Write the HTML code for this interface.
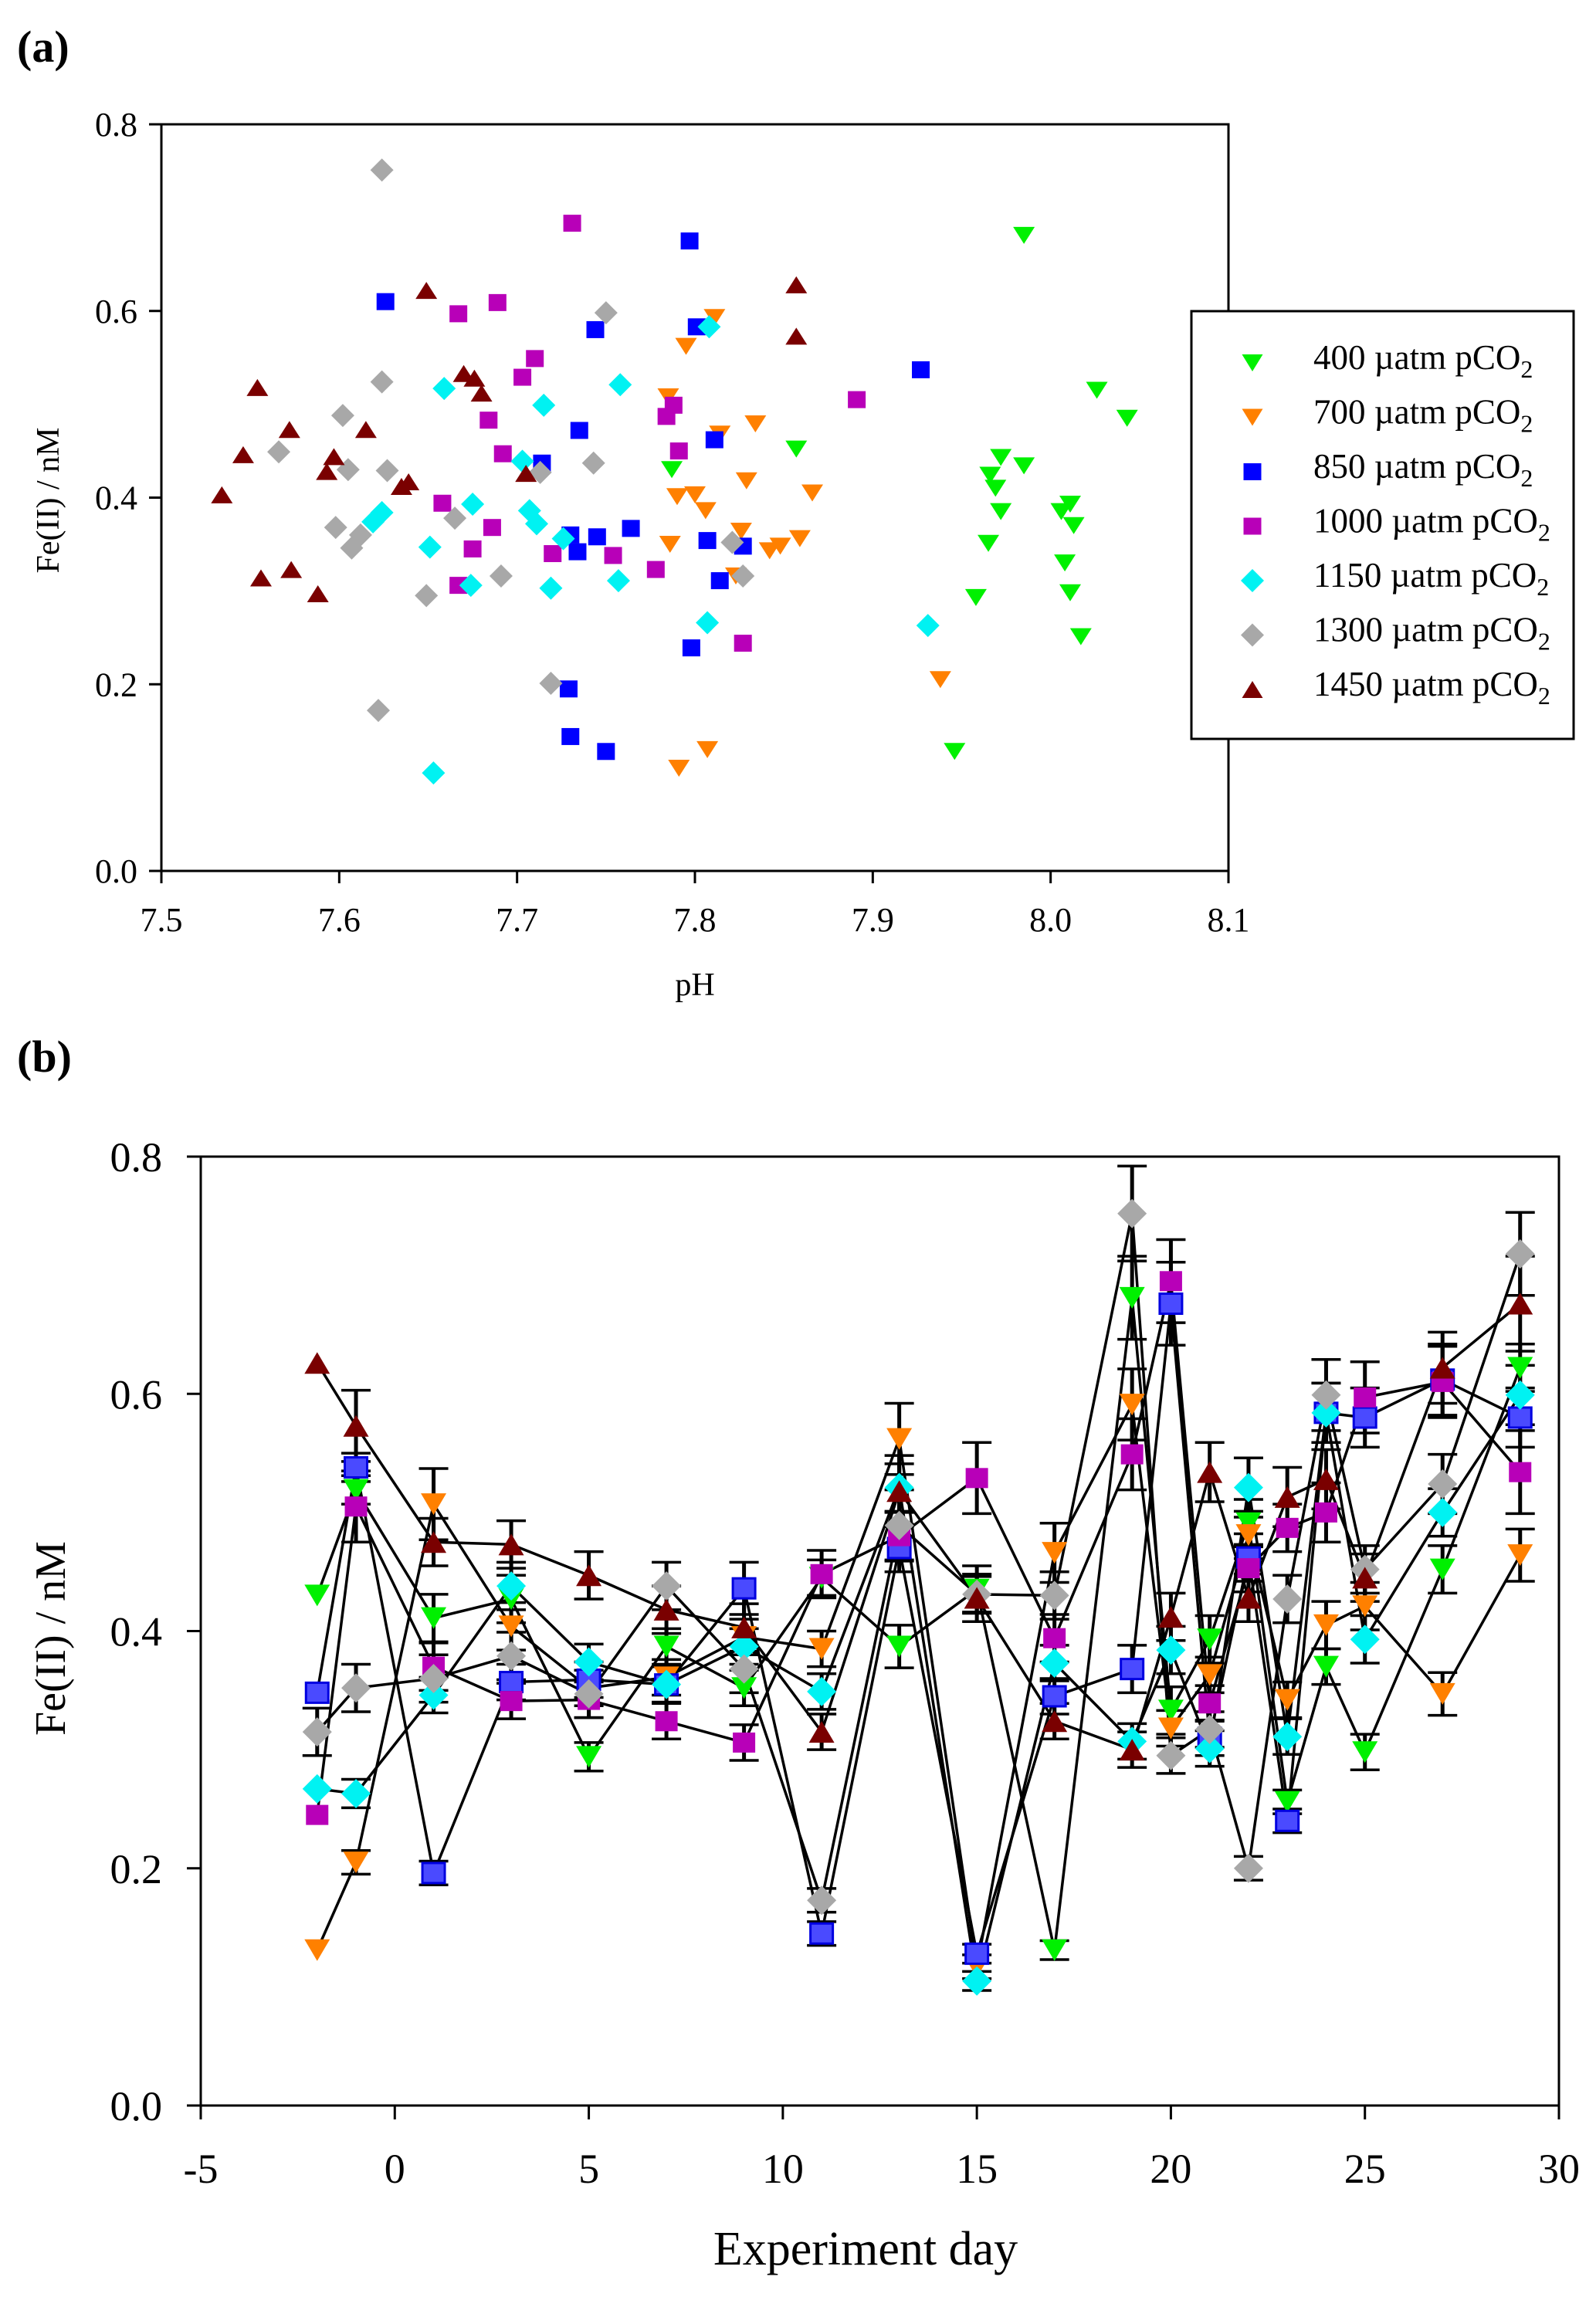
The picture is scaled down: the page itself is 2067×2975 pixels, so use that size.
<!DOCTYPE html>
<html><head><meta charset="utf-8">
<style>
html,body{margin:0;padding:0;background:#fff;}
svg{display:block;font-family:"Liberation Serif","DejaVu Serif",serif;}
</style></head>
<body>
<svg id="fig" width="2067" height="2975" viewBox="0 0 2067 2975" xmlns="http://www.w3.org/2000/svg">
<rect x="0" y="0" width="2067" height="2975" fill="#fff"/>
<text x="22" y="80" font-size="58" font-weight="bold">(a)</text>
<text x="22" y="1388" font-size="58" font-weight="bold">(b)</text>
<g id="pa"></g>
<g id="pb"></g>
<g id="legend"></g>
</svg>
<script>
// ---------- shared ----------
const seriesNames = ["400","700","850","1000","1150","1300","1450"];
const seriesColors = ["#00f000","#ff8000","#0000ff","#b800b8","#00f2f2","#a8a8a8","#7a0000"];
const seriesShapes = ["down","down","square","square","diamond","diamond","up"];

// ---------- panel (a) data: pH vs Fe(II) ----------
const phA400 = [7.985,8.026,8.043,7.857,7.787,7.972,7.985,7.966,7.969,7.972,8.011,8.006,8.013,7.965,8.008,8.011,7.958,8.017,7.946];
const feA400 = [0.681,0.515,0.485,0.452,0.430,0.443,0.434,0.424,0.410,0.385,0.393,0.385,0.370,0.351,0.330,0.298,0.293,0.251,0.128];
const phA700 = [7.811,7.795,7.785,7.834,7.814,7.829,7.866,7.790,7.800,7.806,7.786,7.826,7.859,7.842,7.848,7.823,7.938,7.807,7.791];
const feA700 = [0.593,0.562,0.508,0.479,0.468,0.418,0.405,0.401,0.403,0.386,0.350,0.364,0.356,0.343,0.348,0.316,0.205,0.130,0.110];
const phA850 = [7.626,7.744,7.797,7.801,7.735,7.714,7.730,7.745,7.734,7.764,7.798,7.729,7.730,7.750,7.811,7.927,7.807,7.827,7.814];
const feA850 = [0.610,0.580,0.675,0.583,0.472,0.437,0.360,0.358,0.342,0.367,0.239,0.195,0.144,0.128,0.462,0.537,0.354,0.348,0.311];
const phA1000 = [7.731,7.667,7.689,7.710,7.703,7.684,7.692,7.658,7.686,7.675,7.667,7.720,7.754,7.778,7.788,7.784,7.791,7.891,7.827];
const feA1000 = [0.694,0.597,0.609,0.549,0.529,0.483,0.447,0.394,0.368,0.345,0.306,0.340,0.338,0.323,0.499,0.487,0.450,0.505,0.244];
const phA1150 = [7.659,7.715,7.758,7.703,7.707,7.711,7.624,7.619,7.675,7.651,7.674,7.726,7.719,7.757,7.653,7.808,7.807,7.931];
const feA1150 = [0.517,0.499,0.521,0.439,0.386,0.372,0.384,0.374,0.393,0.347,0.306,0.356,0.303,0.311,0.105,0.583,0.266,0.263];
const phA1300 = [7.624,7.624,7.602,7.566,7.605,7.627,7.598,7.612,7.607,7.665,7.649,7.691,7.713,7.743,7.750,7.719,7.622,7.821,7.827];
const feA1300 = [0.751,0.524,0.488,0.449,0.430,0.429,0.368,0.360,0.346,0.378,0.295,0.316,0.427,0.437,0.598,0.201,0.172,0.352,0.316];
const phA1450 = [7.554,7.572,7.546,7.534,7.597,7.593,7.615,7.635,7.639,7.649,7.670,7.676,7.680,7.705,7.556,7.573,7.588,7.857,7.857];
const feA1450 = [0.518,0.473,0.446,0.403,0.444,0.428,0.473,0.412,0.417,0.622,0.533,0.528,0.512,0.426,0.314,0.323,0.297,0.628,0.573];
const xTicksA = ["7.5","7.6","7.7","7.8","7.9","8.0","8.1"];
const yTicksA = ["0.0","0.2","0.4","0.6","0.8"];

// ---------- panel (b) data: day vs Fe(II) ----------
const days = [-2,-1,1,3,5,7,9,11,13,15,17,19,20,21,22,23,24,25,27,29];
const feB400  = [0.430,0.519,0.411,0.427,0.294,0.387,0.352,0.445,0.387,0.435,0.131,0.681,0.333,0.393,0.491,0.256,0.370,0.298,0.452,0.622];
const feB700  = [0.131,0.205,0.507,0.404,0.352,0.361,0.395,0.385,0.562,0.117,0.466,0.591,0.318,0.363,0.481,0.342,0.405,0.421,0.347,0.464];
const feB850  = [0.348,0.538,0.196,0.357,0.359,0.355,0.436,0.145,0.470,0.128,0.345,0.368,0.676,0.310,0.462,0.240,0.584,0.580,0.612,0.580];
const feB1000 = [0.245,0.505,0.370,0.341,0.342,0.324,0.306,0.448,0.480,0.529,0.394,0.549,0.695,0.339,0.453,0.487,0.500,0.597,0.610,0.534];
const feB1150 = [0.267,0.263,0.346,0.438,0.374,0.355,0.387,0.349,0.521,0.105,0.373,0.307,0.384,0.301,0.521,0.311,0.584,0.393,0.500,0.599];
const feB1300 = [0.315,0.352,0.360,0.379,0.347,0.438,0.368,0.173,0.489,0.431,0.430,0.752,0.295,0.317,0.200,0.427,0.599,0.452,0.524,0.718];
const feB1450 = [0.626,0.573,0.475,0.473,0.447,0.418,0.403,0.315,0.518,0.428,0.324,0.300,0.412,0.534,0.428,0.513,0.528,0.445,0.622,0.676];
const errB400  = [0,0.012,0.02,0.02,0.012,0.015,0.015,0.015,0.018,0.02,0.008,0.035,0.02,0.02,0.02,0.01,0.015,0.015,0.02,0.02];
const errB700  = [0,0.01,0.03,0.02,0.015,0.015,0.015,0.015,0.03,0.01,0.025,0.03,0.015,0.015,0.02,0.015,0.02,0.02,0.018,0.022];
const errB850  = [0,0.012,0.01,0.015,0.015,0.015,0.022,0.01,0.02,0.008,0.015,0.02,0.035,0.015,0.02,0.01,0.025,0.025,0.03,0.025];
const errB1000 = [0,0.03,0.02,0.015,0.015,0.015,0.015,0.02,0.02,0.03,0.02,0.03,0.035,0.015,0.02,0.02,0.025,0.03,0.03,0.035];
const errB1150 = [0,0.012,0.015,0.02,0.015,0.015,0.015,0.015,0.02,0.008,0.015,0.015,0.02,0.015,0.025,0.015,0.025,0.02,0.02,0.025];
const errB1300 = [0.02,0.02,0.02,0.02,0.02,0.02,0.02,0.01,0.03,0.015,0.02,0.04,0.015,0.015,0.01,0.02,0.03,0.02,0.025,0.035];
const errB1450 = [0,0.03,0.02,0.02,0.02,0.02,0.02,0.015,0.03,0.02,0.015,0.015,0.02,0.025,0.02,0.025,0.025,0.02,0.03,0.04];
const xTicksB = ["-5","0","5","10","15","20","25","30"];
const yTicksB = ["0.0","0.2","0.4","0.6","0.8"];

const phData = [phA400,phA700,phA850,phA1000,phA1150,phA1300,phA1450];
const feAData = [feA400,feA700,feA850,feA1000,feA1150,feA1300,feA1450];
const feBData = [feB400,feB700,feB850,feB1000,feB1150,feB1300,feB1450];
const errBData = [errB400,errB700,errB850,errB1000,errB1150,errB1300,errB1450];

const NS = "http://www.w3.org/2000/svg";
function mk(tag, attrs, parent){
  const e = document.createElementNS(NS, tag);
  for (const k in attrs) e.setAttribute(k, attrs[k]);
  parent.appendChild(e);
  return e;
}
function marker(parent, shape, cx, cy, s, fill, stroke){
  let e;
  if (shape === "square") {
    e = mk("rect", {x:cx - s.sq/2, y:cy - s.sqh/2, width:s.sq, height:s.sqh, fill:fill}, parent);
    if (stroke) { e.setAttribute("stroke", stroke); e.setAttribute("stroke-width", "3"); }
  } else if (shape === "diamond") {
    e = mk("polygon", {points:`${cx},${cy-s.dh/2} ${cx+s.dw/2},${cy} ${cx},${cy+s.dh/2} ${cx-s.dw/2},${cy}`, fill:fill}, parent);
  } else if (shape === "down") {
    e = mk("polygon", {points:`${cx-s.tw/2},${cy-s.th/2} ${cx+s.tw/2},${cy-s.th/2} ${cx},${cy+s.th/2}`, fill:fill}, parent);
  } else {
    e = mk("polygon", {points:`${cx-s.tw/2},${cy+s.th/2} ${cx+s.tw/2},${cy+s.th/2} ${cx},${cy-s.th/2}`, fill:fill}, parent);
  }
  return e;
}

// ---------- panel (a) ----------
(function(){
  const g = document.getElementById("pa");
  const L=209, R=1591, T=161, B=1128;
  const xs = v => L + (v - 7.5) / 0.6 * (R - L);
  const ys = v => B - v / 0.8 * (B - T);
  const frame = mk("rect", {x:L, y:T, width:R-L, height:B-T, fill:"none", stroke:"#000", "stroke-width":3}, g);
  
  
  xTicksA.forEach(t => {
    const x = xs(parseFloat(t));
    mk("line", {x1:x, y1:B, x2:x, y2:B+16, stroke:"#000", "stroke-width":3}, g);
    const tx = mk("text", {x:x, y:1206, "font-size":44, "text-anchor":"middle"}, g);
    tx.textContent = t;
    
    
  });
  yTicksA.forEach(t => {
    const y = ys(parseFloat(t));
    mk("line", {x1:L-16, y1:y, x2:L, y2:y, stroke:"#000", "stroke-width":3}, g);
    const tx = mk("text", {x:178, y:y+15, "font-size":44, "text-anchor":"end"}, g);
    tx.textContent = t;
    
    
  });
  const xt = mk("text", {x:(L+R)/2, y:1289, "font-size":42, "text-anchor":"middle"}, g);
  xt.textContent = "pH";
  
  
  const yt = mk("text", {x:0, y:0, "font-size":42, "text-anchor":"middle", transform:"translate(76,648) rotate(-90)"}, g);
  yt.textContent = "Fe(II) / nM";
  
  
  const s = {sq:23, sqh:22, dw:30, dh:30, tw:28, th:22};
  for (let i = 0; i < seriesNames.length; i++) {
    const sg = mk("g", {}, g);
    
    
    phData[i].forEach((ph, j) => {
      const m = marker(sg, seriesShapes[i], xs(ph), ys(feAData[i][j]), s, seriesColors[i], null);
      
      
    });
  }
})();

// ---------- legend ----------
(function(){
  const g = document.getElementById("legend");
  const box = mk("rect", {x:1543, y:403, width:495, height:554, fill:"#fff", stroke:"#000", "stroke-width":3}, g);
  
  
  const s = {sq:23, sqh:22, dw:30, dh:30, tw:27, th:22};
  for (let i = 0; i < seriesNames.length; i++) {
    const y = 470 + i * 70.5;
    const eg = mk("g", {}, g);
    
    
    marker(eg, seriesShapes[i], 1622, y, s, seriesColors[i], null);
    const t = mk("text", {x:1701, y:y+8, "font-size":45}, eg);
    t.textContent = seriesNames[i] + " \u00b5atm pCO";
    const sub = mk("tspan", {"font-size":32, dy:11}, t);
    sub.textContent = "2";
  }
})();

// ---------- panel (b) ----------
(function(){
  const g = document.getElementById("pb");
  const L=260, R=2019, T=1498, B=2727;
  const xs = v => L + (v + 5) / 35 * (R - L);
  const ys = v => B - v / 0.8 * (B - T);
  const frame = mk("rect", {x:L, y:T, width:R-L, height:B-T, fill:"none", stroke:"#000", "stroke-width":3}, g);
  
  
  xTicksB.forEach(t => {
    const x = xs(parseFloat(t));
    mk("line", {x1:x, y1:B, x2:x, y2:B+18, stroke:"#000", "stroke-width":3}, g);
    const tx = mk("text", {x:x, y:2827, "font-size":54, "text-anchor":"middle"}, g);
    tx.textContent = t;
    
    
  });
  yTicksB.forEach(t => {
    const y = ys(parseFloat(t));
    mk("line", {x1:L-18, y1:y, x2:L, y2:y, stroke:"#000", "stroke-width":3}, g);
    const tx = mk("text", {x:210, y:y+19, "font-size":54, "text-anchor":"end"}, g);
    tx.textContent = t;
    
    
  });
  const xt = mk("text", {x:1121, y:2933, "font-size":62, "text-anchor":"middle"}, g);
  xt.textContent = "Experiment day";
  
  
  const yt = mk("text", {x:0, y:0, "font-size":56, "text-anchor":"middle", transform:"translate(84,2122) rotate(-90)"}, g);
  yt.textContent = "Fe(II) / nM";
  
  
  const s = {sq:29, sqh:26, dw:38, dh:38, tw:33, th:28};
  for (let i = 0; i < seriesNames.length; i++) {
    const pts = days.map((d, j) => xs(d) + "," + ys(feBData[i][j])).join(" ");
    const pl = mk("polyline", {points:pts, fill:"none", stroke:"#000", "stroke-width":3.5}, g);
    
    
  }
  for (let i = 0; i < seriesNames.length; i++) {
    const eg = mk("g", {stroke:"#000", "stroke-width":3.5}, g);
    
    
    days.forEach((d, j) => {
      const e = errBData[i][j];
      if (!e) return;
      const x = xs(d), y1 = ys(feBData[i][j] + e), y2 = ys(feBData[i][j] - e);
      mk("line", {x1:x, y1:y1, x2:x, y2:y2, "stroke-width":5}, eg);
      mk("line", {x1:x-19, y1:y1, x2:x+19, y2:y1}, eg);
      mk("line", {x1:x-19, y1:y2, x2:x+19, y2:y2}, eg);
    });
  }
  for (let i = 0; i < seriesNames.length; i++) {
    const sg = mk("g", {}, g);
    
    
    const fill = seriesShapes[i] === "square" && i === 2 ? "#4a4aff" : seriesColors[i];
    const stroke = i === 2 ? "#0000e0" : null;
    days.forEach((d, j) => {
      const m = marker(sg, seriesShapes[i], xs(d), ys(feBData[i][j]), s, fill, stroke);
      
      
    });
  }
})();
</script>
</body></html>
